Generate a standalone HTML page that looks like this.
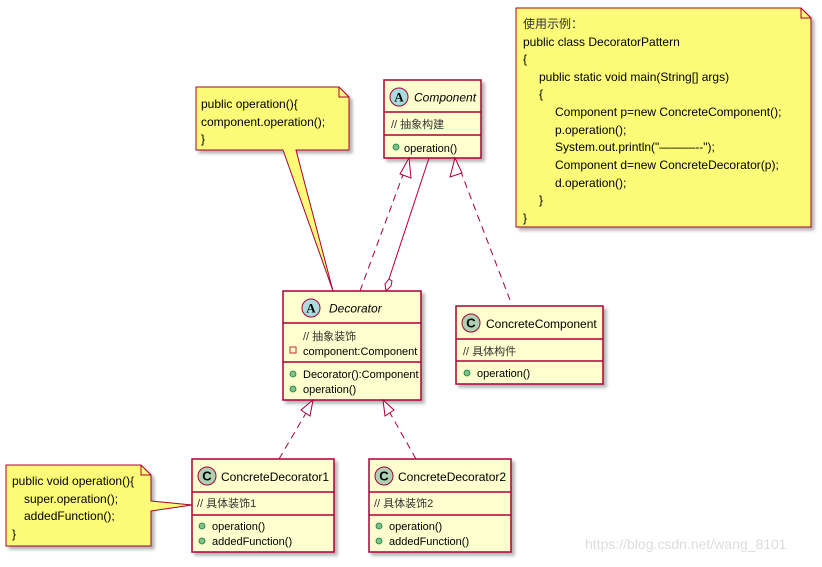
<!DOCTYPE html>
<html><head><meta charset="utf-8"><style>
html,body{margin:0;padding:0;background:#fff;}
svg text{font-family:"Liberation Sans","Noto Sans CJK SC",sans-serif;font-size:11px;fill:#000;}
</style></head><body>
<svg width="822" height="562" viewBox="0 0 822 562" xmlns="http://www.w3.org/2000/svg">
<defs>
<filter id="sh" x="-10%" y="-10%" width="130%" height="130%"><feDropShadow dx="3" dy="3" stdDeviation="1.5" flood-color="#000" flood-opacity="0.3"/></filter>
</defs>
<g stroke="#A80036" fill="#FEFECE" stroke-width="1.5">
<!-- Component -->
<rect x="384" y="80" width="97" height="78" filter="url(#sh)"/>
<line x1="384" y1="112" x2="481" y2="112"/><line x1="384" y1="135" x2="481" y2="135"/>
<!-- Decorator -->
<rect x="283" y="291" width="138" height="109" filter="url(#sh)"/>
<line x1="283" y1="323" x2="421" y2="323"/><line x1="283" y1="362" x2="421" y2="362"/>
<!-- ConcreteComponent -->
<rect x="456" y="306" width="147" height="78" filter="url(#sh)"/>
<line x1="456" y1="339" x2="603" y2="339"/><line x1="456" y1="361" x2="603" y2="361"/>
<!-- CD1 -->
<rect x="192" y="459" width="142" height="93" filter="url(#sh)"/>
<line x1="192" y1="492" x2="334" y2="492"/><line x1="192" y1="515" x2="334" y2="515"/>
<!-- CD2 -->
<rect x="369" y="459" width="142" height="93" filter="url(#sh)"/>
<line x1="369" y1="492" x2="511" y2="492"/><line x1="369" y1="515" x2="511" y2="515"/>
</g>
<!-- notes -->
<g stroke="#A80036" fill="#FBFB77" stroke-width="1">
<path d="M196,87 H339 L349,97 V150 H196 Z" filter="url(#sh)"/>
<path d="M339,87 V97 H349" fill="none"/>
<path d="M283,150 L333,291 L296,150 Z" stroke="#A80036"/>
<line x1="283.5" y1="150" x2="295.5" y2="150" stroke="#FBFB77" stroke-width="2"/>
<path d="M516,8 H801 L811,18 V227 H516 Z" filter="url(#sh)"/>
<path d="M801,8 V18 H811" fill="none"/>
<path d="M6,465 H141 L151,475 V546 H6 Z" filter="url(#sh)"/>
<path d="M141,465 V475 H151" fill="none"/>
<path d="M151,501 L192,505 L151,511" />
<line x1="151" y1="501.5" x2="151" y2="510.5" stroke="#FBFB77" stroke-width="2"/>
</g>
<!-- connectors -->
<g stroke="#A80036" fill="none" stroke-width="1">
<line x1="360" y1="291" x2="404" y2="172" stroke-dasharray="7,5"/>
<path d="M409,158 L400,174 L411,178 Z" fill="#fff"/>
<path d="M429,158 L389,279"/>
<path d="M389,279 L385,284 L386,291 L391,286 L392,281 Z" fill="#fff" transform="rotate(0)"/>
<line x1="510" y1="300" x2="461" y2="172" stroke-dasharray="7,5"/>
<path d="M455,158 L450,177 L462,173 Z" fill="#fff"/>
<line x1="279" y1="459" x2="306" y2="413" stroke-dasharray="7,5"/>
<path d="M313,400 L301,410 L310,416 Z" fill="#fff"/>
<line x1="416" y1="459" x2="390" y2="413" stroke-dasharray="7,5"/>
<path d="M383,400 L385,416 L394,410 Z" fill="#fff"/>
</g>
<!-- icons -->
<g stroke="#A80036" stroke-width="1">
<circle cx="399" cy="97" r="9" fill="#A9DCDF"/>
<circle cx="311" cy="308" r="9" fill="#A9DCDF"/>
<circle cx="471" cy="323" r="9" fill="#ADD1B2"/>
<circle cx="207" cy="476" r="9" fill="#ADD1B2"/>
<circle cx="384" cy="476" r="9" fill="#ADD1B2"/>
</g>
<g font-weight="bold" text-anchor="middle">
<text x="399" y="101.5" style="font-size:13px;font-family:'Liberation Serif',serif;font-weight:bold">A</text>
<text x="311" y="312.5" style="font-size:13px;font-family:'Liberation Serif',serif;font-weight:bold">A</text>
<text x="471" y="327.5" style="font-size:13px;font-weight:bold">C</text>
<text x="207" y="480.5" style="font-size:13px;font-weight:bold">C</text>
<text x="384" y="480.5" style="font-size:13px;font-weight:bold">C</text>
</g>
<g fill="#84BE84" stroke="#038048" stroke-width="0.8">
<circle cx="396" cy="147" r="3"/>
<circle cx="293" cy="374" r="3"/><circle cx="293" cy="389" r="3"/>
<circle cx="467" cy="373" r="3"/>
<circle cx="202" cy="526" r="3"/><circle cx="202" cy="541" r="3"/>
<circle cx="379" cy="526" r="3"/><circle cx="379" cy="541" r="3"/>
</g>
<rect x="290" y="347" width="6" height="6" fill="none" stroke="#C82930" stroke-width="1"/>
<!-- class texts -->
<text x="414" y="101.5" font-style="italic" style="font-size:12px;font-style:italic">Component</text>
<text x="391" y="128" style="fill:#333">//  抽象构建</text>
<text x="404" y="152">operation()</text>
<text x="329" y="312.5" style="font-size:12px;font-style:italic">Decorator</text>
<text x="303" y="340" style="fill:#333">// 抽象装饰</text>
<text x="303" y="355">component:Component</text>
<text x="303" y="378">Decorator():Component</text>
<text x="303" y="393">operation()</text>
<text x="486" y="328" style="font-size:12px">ConcreteComponent</text>
<text x="463" y="355" style="fill:#333">// 具体构件</text>
<text x="477" y="377">operation()</text>
<text x="221" y="481" style="font-size:12px">ConcreteDecorator1</text>
<text x="197" y="507" style="fill:#333">// 具体装饰1</text>
<text x="212" y="530">operation()</text>
<text x="212" y="545">addedFunction()</text>
<text x="398" y="481" style="font-size:12px">ConcreteDecorator2</text>
<text x="374" y="507" style="fill:#333">// 具体装饰2</text>
<text x="389" y="530">operation()</text>
<text x="389" y="545">addedFunction()</text>
<!-- note texts -->
<g style="font-size:12px">
<text x="201" y="108" style="font-size:12px">public operation(){</text>
<text x="201" y="126" style="font-size:12px">component.operation();</text>
<text x="201" y="143" style="font-size:12px">}</text>
<text x="523" y="28" style="font-size:12px;fill:#333">使用示例：</text>
<text x="523" y="46" style="font-size:12px">public class DecoratorPattern</text>
<text x="523" y="63" style="font-size:12px">{</text>
<text x="539" y="81" style="font-size:12px">public static void main(String[] args)</text>
<text x="539" y="98" style="font-size:12px">{</text>
<text x="555" y="116" style="font-size:12px">Component p=new ConcreteComponent();</text>
<text x="555" y="134" style="font-size:12px">p.operation();</text>
<text x="555" y="151" style="font-size:12px">System.out.println("———--");</text>
<text x="555" y="169" style="font-size:12px">Component d=new ConcreteDecorator(p);</text>
<text x="555" y="187" style="font-size:12px">d.operation();</text>
<text x="539" y="204" style="font-size:12px">}</text>
<text x="523" y="222" style="font-size:12px">}</text>
<text x="12" y="485" style="font-size:12px">public void operation(){</text>
<text x="24" y="503" style="font-size:12px">super.operation();</text>
<text x="24" y="520" style="font-size:12px">addedFunction();</text>
<text x="12" y="538" style="font-size:12px">}</text>
</g>
<text x="585" y="549" style="font-size:14px;fill:#dddddd">https://blog.csdn.net/wang_8101</text>
</svg>
</body></html>
